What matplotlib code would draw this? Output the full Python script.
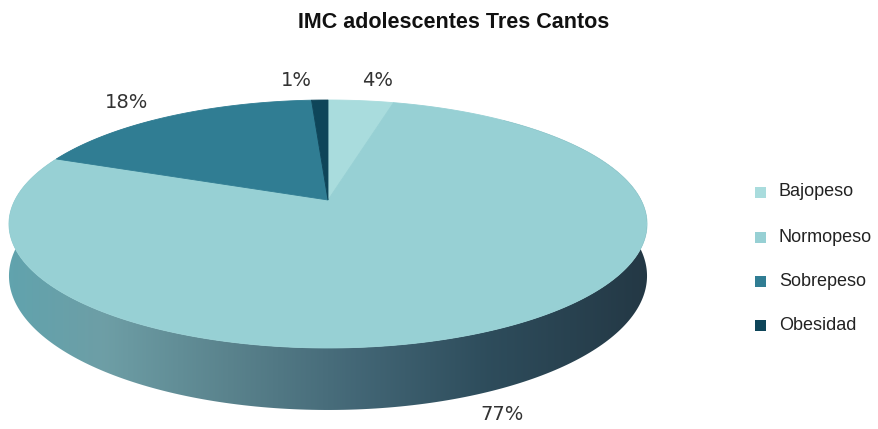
import numpy as np
import matplotlib.pyplot as plt
from matplotlib.patches import Polygon, Rectangle
from matplotlib.colors import LinearSegmentedColormap

categorias = ["Bajopeso", "Normopeso", "Sobrepeso", "Obesidad"]
porcentajes = [4, 77, 18, 1]
etiquetas = ["4%", "77%", "18%", "1%"]
colores = ["#a9dcdd", "#97d0d4", "#307d93", "#0e4559"]

# pie geometry in pixel space (simple perspective on the pie plane)
CX, CY = 328, 200
R = 313
C = 0.1935
B = -80.65
GROSOR = 50

def proyectar(theta, drop=0.0):
    # theta measured clockwise from the far point of the pie
    x = np.sin(theta)
    z = np.cos(theta)
    den = 1 + C * z
    px = CX + R * x / den
    py = (CY + B * z) / den + drop / den
    return px, py

fig = plt.figure(figsize=(8.79, 4.29), dpi=100)
ax = fig.add_axes([0, 0, 1, 1])
ax.set_xlim(0, 879)
ax.set_ylim(429, 0)
ax.axis("off")

# side wall (gradient, clipped to the outline between top and bottom rims)
t = np.radians(np.linspace(40, 320, 300))
tx, ty = proyectar(t)
bx, by = proyectar(t[::-1], GROSOR)
lado = Polygon(np.column_stack([np.r_[tx, bx], np.r_[ty, by]]), closed=True,
               facecolor="none", edgecolor="none")
ax.add_patch(lado)
cmap = LinearSegmentedColormap.from_list("lado", [
    (0.0, (0.38, 0.64, 0.68)),
    (0.15, (0.43, 0.62, 0.65)),
    (0.35, (0.35, 0.51, 0.55)),
    (0.55, (0.26, 0.40, 0.46)),
    (0.75, (0.18, 0.30, 0.36)),
    (1.0, (0.14, 0.22, 0.27)),
])
grad = np.linspace(0, 1, 256).reshape(1, -1)
img = ax.imshow(grad, cmap=cmap, extent=[8, 648, 420, 90], aspect="auto", zorder=1)
img.set_clip_path(lado)

# top faces
inicio = 0.0
for pct, col in zip(porcentajes, colores):
    fin = inicio + pct / 100 * 2 * np.pi
    ang = np.linspace(inicio, fin, max(int(pct * 4), 8))
    px, py = proyectar(ang)
    pts = np.column_stack([np.r_[CX, px], np.r_[CY, py]])
    ax.add_patch(Polygon(pts, closed=True, facecolor=col, edgecolor=col,
                         linewidth=0.6, zorder=2))
    inicio = fin

# percentage labels
pos_etiquetas = [(378, 80), (502, 414), (127, 102), (296, 80)]
for txt, (x, y) in zip(etiquetas, pos_etiquetas):
    ax.text(x, y, txt, fontsize=14, color="#333333", ha="center", va="center",
            family="DejaVu Sans", zorder=3)

ax.text(454, 22, "IMC adolescentes Tres Cantos", fontsize=15.5, fontweight="bold",
        ha="center", va="center", family="Liberation Sans", color="#111111")

# legend
ys = [192, 237, 281, 325]
for cat, col, y in zip(categorias, colores, ys):
    ax.add_patch(Rectangle((755, y - 5.5), 11, 11, facecolor=col, edgecolor="none"))
    ax.text(779, y, cat, fontsize=13, ha="left", va="center",
            family="Liberation Sans", color="#222222")

fig.savefig("out.png", dpi=100)
